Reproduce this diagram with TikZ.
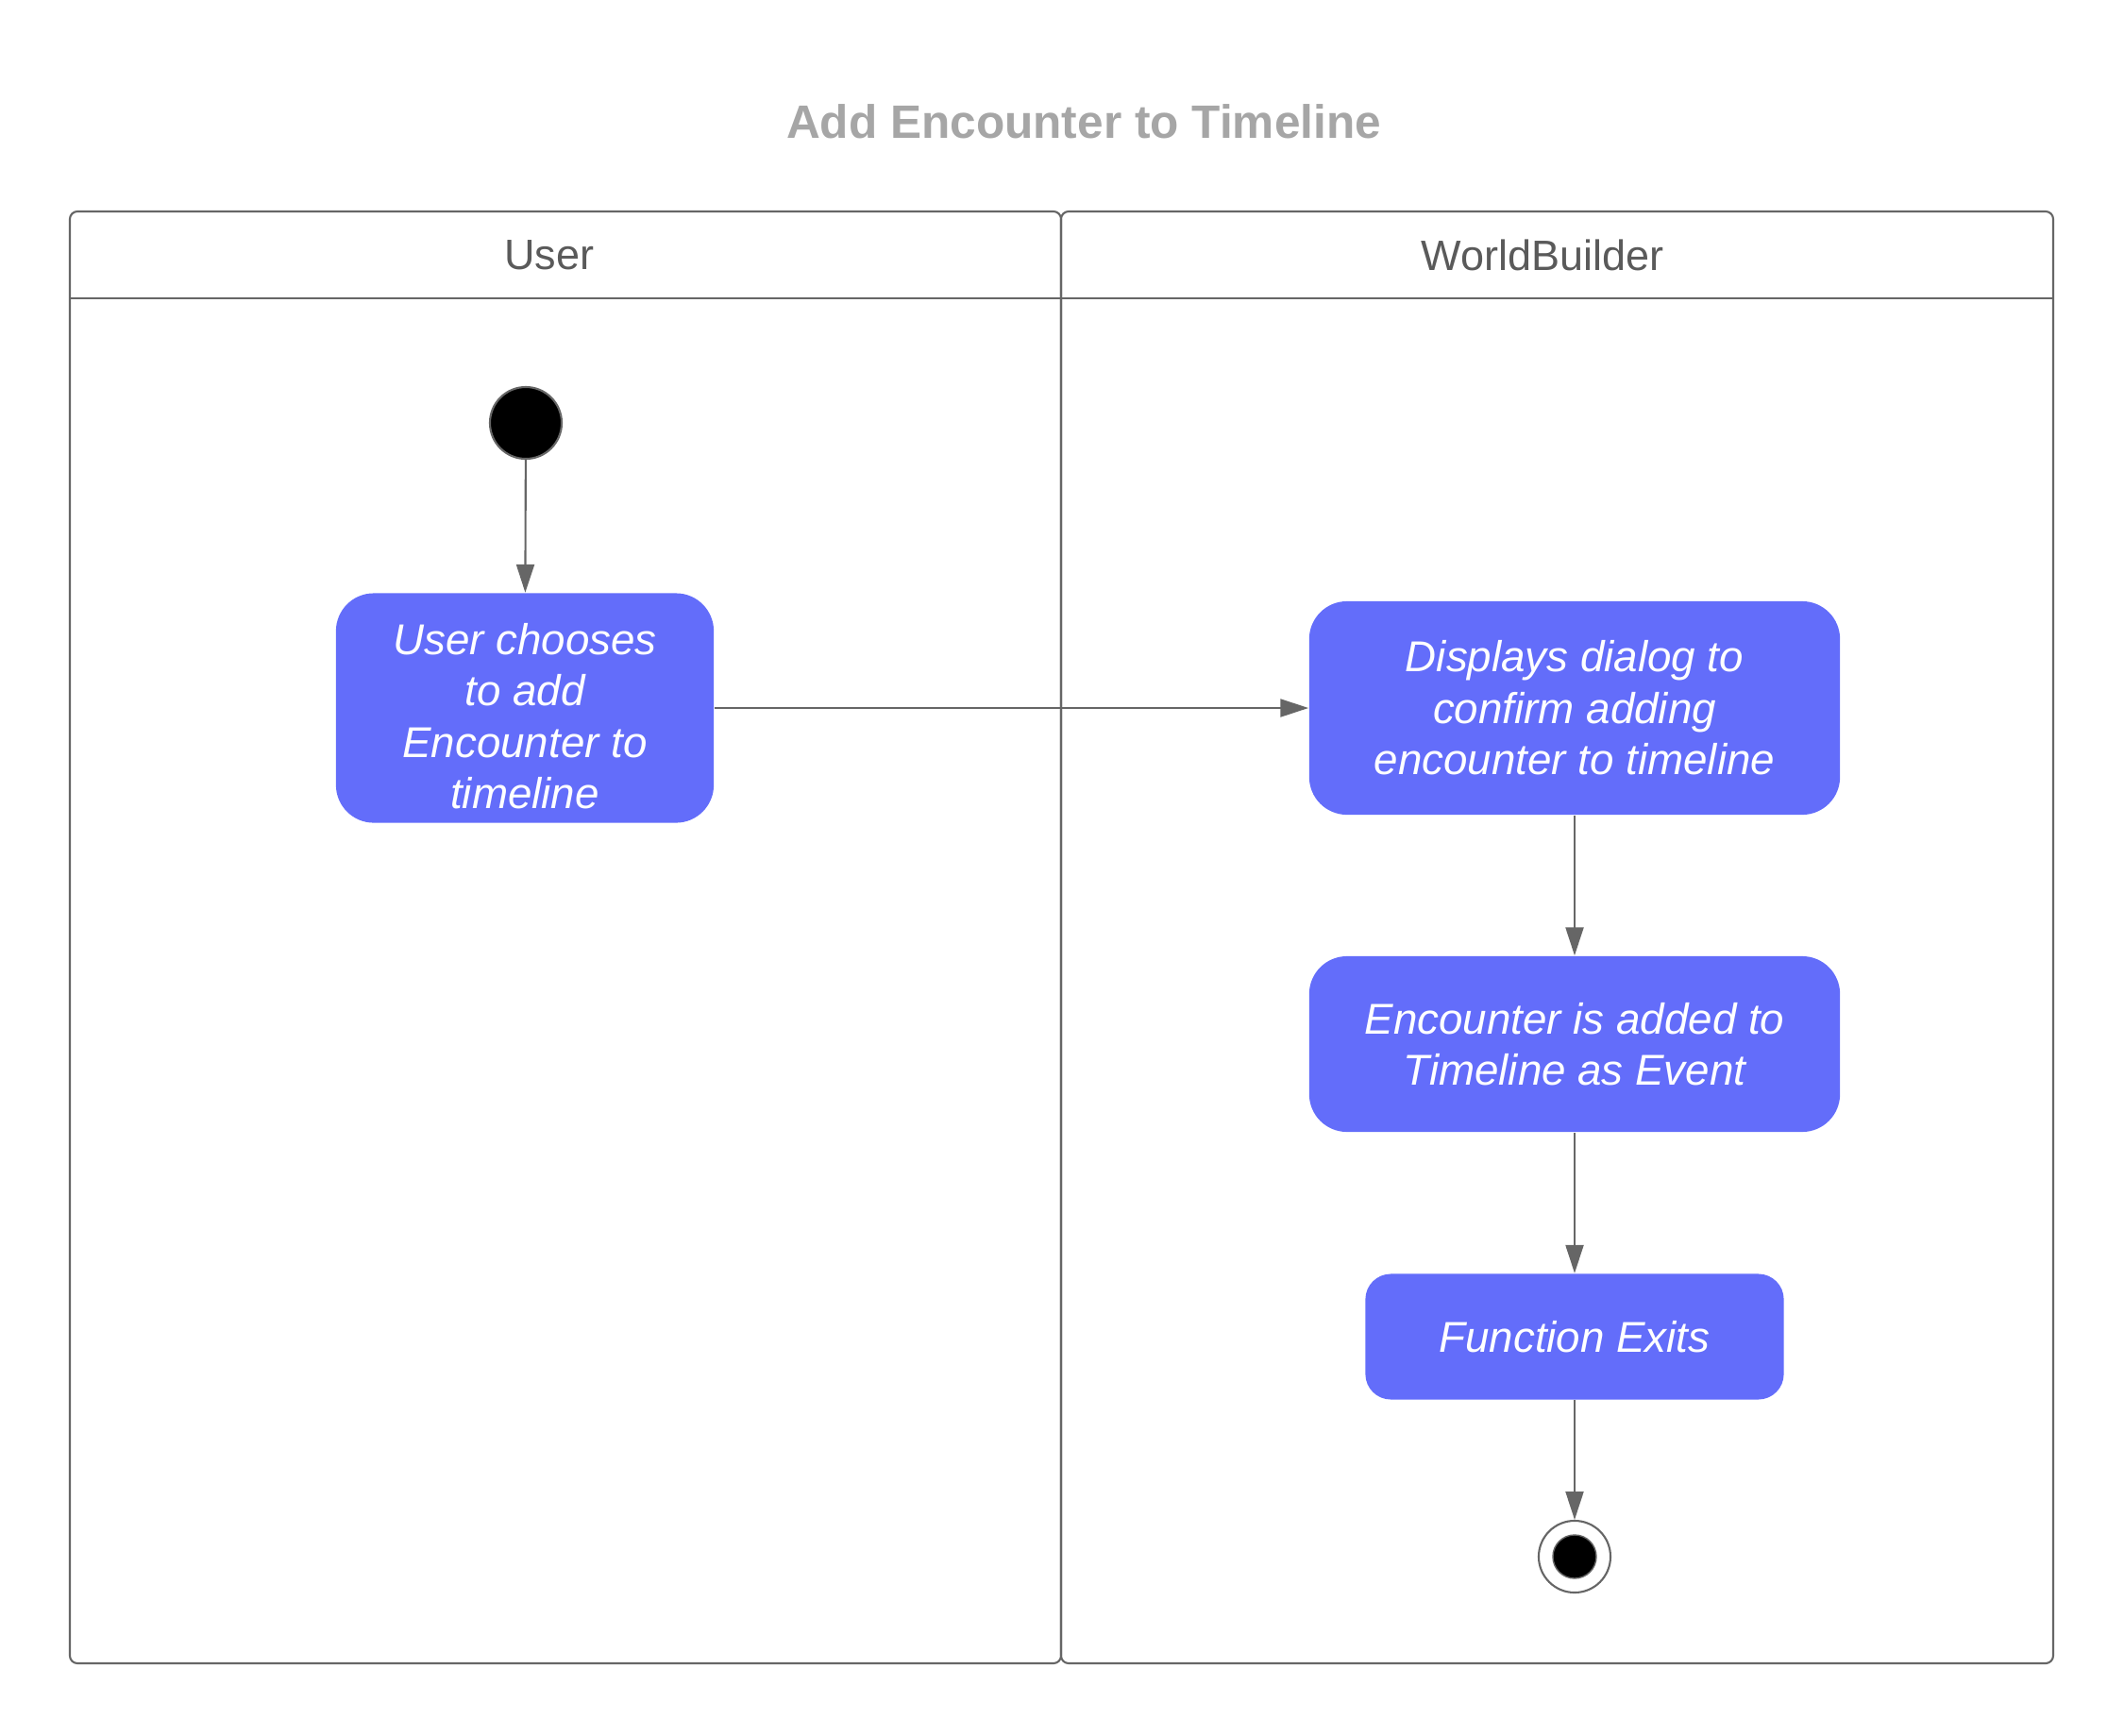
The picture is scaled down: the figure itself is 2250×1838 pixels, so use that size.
\documentclass[tikz,border=0pt]{standalone}
\usepackage{fontspec}
\setmainfont{Liberation Sans}
\usepackage{xcolor}
\usetikzlibrary{arrows.meta}
\definecolor{actfill}{RGB}{99,109,250}
\definecolor{lanegray}{RGB}{102,102,102}
\definecolor{titlegray}{RGB}{166,166,166}
\definecolor{headgray}{RGB}{90,90,90}

\begin{document}
\begin{tikzpicture}[x=0.01cm,y=-0.01cm,
	act/.style={rectangle,rounded corners=0.4cm,fill=actfill,text=white,align=center,inner sep=0pt,font=\fontsize{13}{15.5}\selectfont\itshape},
	flow/.style={draw=lanegray,line width=0.6pt,-{Triangle[length=8.5pt,width=5.4pt]}},
	lane/.style={draw=lanegray,line width=0.6pt}]

	\useasboundingbox (0,0) rectangle (2250,1838);

	% title and swimlanes
	\node[font=\fontsize{14.1}{17}\selectfont\bfseries,text=titlegray] (title) at (1148,129) {Add Encounter to Timeline};
	\draw[lane,rounded corners=0.08cm] (74,224) rectangle (1124,1762);
	\draw[lane,rounded corners=0.08cm] (1124,224) rectangle (2175,1762);
	\draw[lane] (74,316) -- (2175,316);
	\node[font=\fontsize{12.8}{15}\selectfont,text=headgray] (userlane) at (582,270) {User};
	\node[font=\fontsize{12.8}{15}\selectfont,text=headgray] (wblane) at (1634,270) {WorldBuilder};

	% activities
	\node[circle,fill=black,draw=lanegray,line width=0.6pt,minimum size=0.76cm,inner sep=0pt] (start) at (557,448) {};
	\node[act,minimum width=4cm,minimum height=2.43cm] (choose) at (556,750) {\rule{0pt}{0.5cm}User chooses\\to add\\Encounter to\\timeline};
	\node[act,minimum width=5.62cm,minimum height=2.26cm] (confirm) at (1668,750) {Displays dialog to\\confirm adding\\encounter to timeline};
	\node[act,minimum width=5.62cm,minimum height=1.86cm] (added) at (1668,1106) {Encounter is added to\\Timeline as Event};
	\node[act,rounded corners=0.27cm,minimum width=4.43cm,minimum height=1.33cm] (exits) at (1668,1416) {Function Exits};
	\node[circle,fill=white,draw=lanegray,line width=0.6pt,minimum size=0.76cm,inner sep=0pt] (stop) at (1668,1649) {};
	\filldraw[fill=black,draw=lanegray,line width=0.4pt] (stop.center) circle (0.23cm);

	\draw[flow] (start) -- (choose);
	\draw[flow] (choose) -- (confirm);
	\draw[flow] (confirm) -- (added);
	\draw[flow] (added) -- (exits);
	\draw[flow] (exits) -- (stop);

\end{tikzpicture}
\end{document}
